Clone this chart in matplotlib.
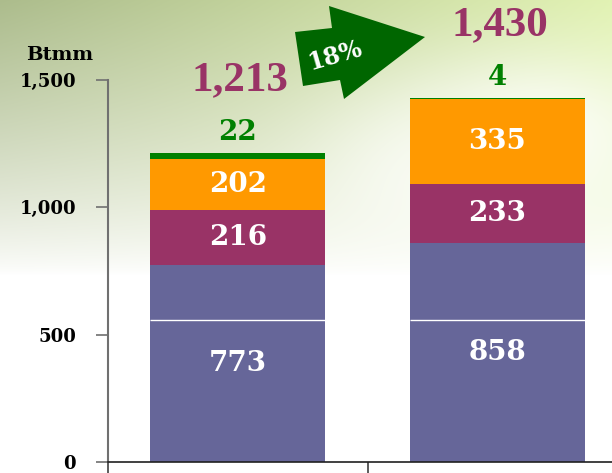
import numpy as np
import matplotlib
matplotlib.use("Agg")
import matplotlib.pyplot as plt
from matplotlib.patches import Polygon

# data
years = ["2010", "2011"]
base = [773, 858]
second = [216, 233]
third = [202, 335]
top = [22, 4]
growth_label = "18%"
unit = "Btmm"

colors = ["#666699", "#993366", "#FF9900", "#008000"]
total_color = "#993366"

# wide serif for the labels, times-like for the totals
wide = ["DejaVu Serif"]
times = ["Liberation Serif", "DejaVu Serif"]
plt.rcParams["font.family"] = wide
plt.rcParams["font.weight"] = "bold"

W, H = 612, 473
fig = plt.figure(figsize=(W / 100, H / 100), dpi=100)

# background: soft green wash fading to white
bg = fig.add_axes([0, 0, 1, 1], zorder=0)
yy, xx = np.mgrid[0:H, 0:W]
fx = xx / W
tint = np.zeros((H, W, 3))
left_c = np.array([172, 188, 140]) / 255
right_c = np.array([225, 242, 178]) / 255
tint[:] = left_c * (1 - fx[..., None]) + right_c * fx[..., None]
w = np.clip(1 - yy / 275.0, 0, 1) ** 0.8
glow = np.exp(-(((xx - 540) / 110.0) ** 2 + ((yy - 130) / 70.0) ** 2))
glow2 = np.exp(-(((xx - 420) / 120.0) ** 2 + ((yy - 170) / 90.0) ** 2))
w = w * (1 - 0.75 * glow) * (1 - 0.6 * glow2)
img = np.ones((H, W, 3)) * (1 - w[..., None]) + tint * w[..., None]
bg.imshow(img, aspect="auto", extent=[0, W, H, 0])
bg.set_axis_off()

ax = fig.add_axes([108 / W, 11 / H, 519 / W, 382 / H], zorder=1)
ax.patch.set_alpha(0)

x = np.arange(len(years))
bw = 0.676
bottom = np.zeros(len(years))
for vals, c in zip([base, second, third, top], colors):
    ax.bar(x, vals, bw, bottom=bottom, color=c, zorder=2)
    bottom += np.array(vals)
totals = bottom

# thin white line crossing the bars
ax.hlines([557] * len(x), x - bw / 2, x + bw / 2, color="white", lw=1, zorder=3)

# white labels inside segments
cum = np.zeros(len(years))
for vals in [base, second, third]:
    for i, v in enumerate(vals):
        ax.text(x[i], cum[i] + v / 2, f"{v}", color="white", fontsize=20,
                fontweight="bold", ha="center", va="center", zorder=4)
    cum += np.array(vals)

for i, v in enumerate(top):
    ax.text(x[i], totals[i] + 80, f"{v}", color="#008000", fontsize=20,
            fontweight="bold", ha="center", va="center", clip_on=False)
    ax.text(x[i] + 0.01, totals[i] + 285, f"{int(totals[i]):,}", color=total_color,
            fontsize=31, fontweight="bold", family=times,
            ha="center", va="center", clip_on=False)

ax.set_xlim(-0.5, 1.5)
ax.set_ylim(0, 1500)
ax.set_yticks([0, 500, 1000, 1500])
ax.set_yticklabels([f"{t:,}" for t in [0, 500, 1000, 1500]], fontsize=13,
                   fontweight="bold")
ax.set_xticks([-0.5, 0.5, 1.5])
ax.set_xticklabels([])
ax.tick_params(axis="y", length=9, width=1.2, color="#707070", pad=14)
ax.tick_params(axis="x", length=8, width=1.2, color="#404040")
for s in ["top", "right"]:
    ax.spines[s].set_visible(False)
ax.spines["left"].set_color("#707070")
ax.spines["left"].set_linewidth(1.5)
ax.spines["bottom"].set_color("#202020")
ax.spines["bottom"].set_linewidth(1.2)

fig.text(60 / W, 1 - 55 / H, unit, fontsize=14, fontweight="bold",
         ha="center", va="center")

# growth arrow
pts = [(295, 32), (332, 28), (329, 6), (425, 37), (344, 99), (340, 80), (303, 86)]
arrow = Polygon([(px / W, 1 - py / H) for px, py in pts], closed=True,
                transform=fig.transFigure, facecolor="#006600", edgecolor="none",
                zorder=5)
fig.patches.append(arrow)
fig.text(335 / W, 1 - 56 / H, growth_label, fontsize=17, fontweight="bold",
         color="white", ha="center", va="center", rotation=16, zorder=6)

fig.savefig("out.png", dpi=100)
